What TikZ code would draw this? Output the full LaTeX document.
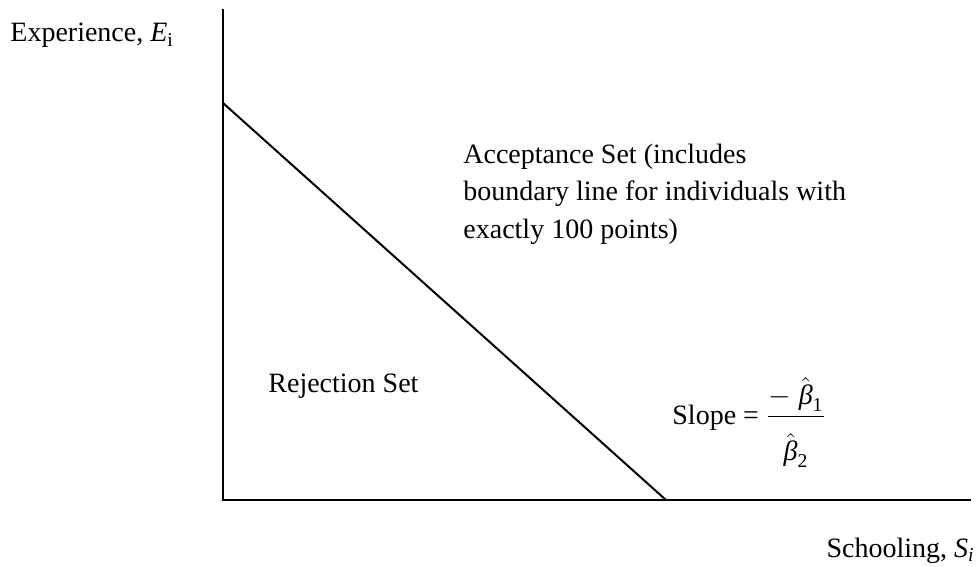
\documentclass[tikz,border=0pt]{standalone}
\usepackage{amsmath}
\usepackage{fontspec}
\setmainfont{Liberation Serif}
\usepackage{tikz}

\newcommand{\bhat}[1]{\hat{\text{\itshape β}}_{\text{#1}}}

\begin{document}
\begin{tikzpicture}[x=0.5pt,y=-0.5pt,
  axis/.style={line width=1pt},
  lbl/.style={font=\fontsize{14}{18.75}\selectfont,inner sep=0pt}]
\useasboundingbox (0,0) rectangle (979,567);
% axes and boundary line
\coordinate (o) at (223,500);
\coordinate (ytop) at (223,9);
\coordinate (xend) at (971,500);
\coordinate (ecut) at (223,103);
\coordinate (scut) at (666,500);
\draw[axis] (ytop) -- (o) -- (xend);
\draw[axis] (ecut) -- (scut);
% labels
\node[lbl,anchor=base west] (ylab) at (10,42) {Experience, \textit{E}\textsubscript{i}};
\node[lbl,anchor=base east] (xlab) at (975,557) {Schooling, \textit{S\textsubscript{i}}};
\node[lbl,anchor=base west,align=left] (accept) at (463,238)
  {Acceptance Set (includes\\boundary line for individuals with\\exactly 100 points)};
\node[lbl,anchor=base west] (reject) at (268,392) {Rejection Set};
\node[lbl,anchor=base west] (slope) at (672,424)
  {Slope = $\dfrac{-\;\bhat{1}}{\rule{0pt}{20pt}\bhat{2}}$};
\end{tikzpicture}
\end{document}
